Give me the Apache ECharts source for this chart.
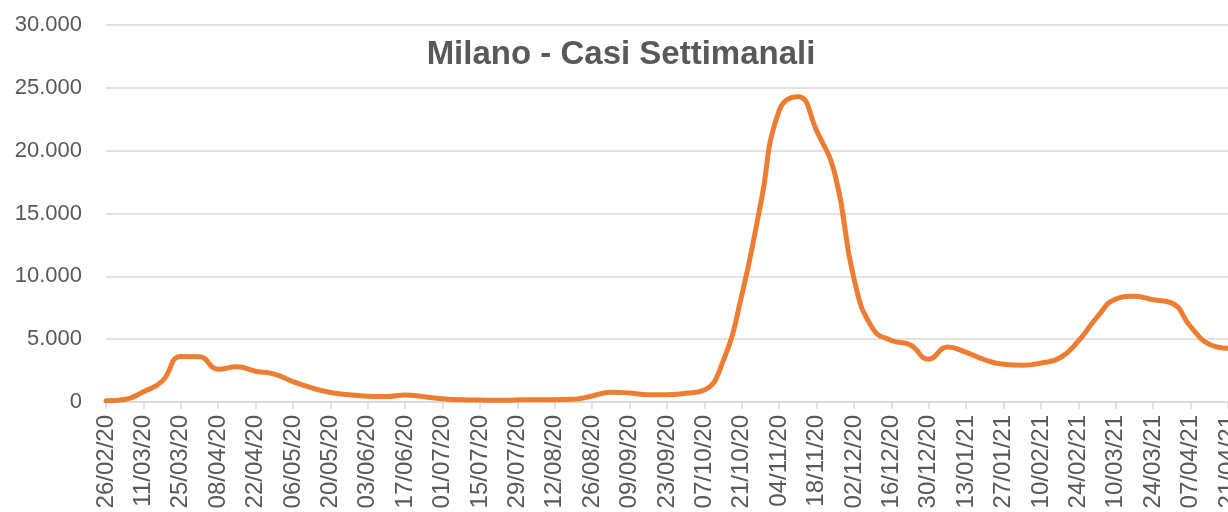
<!DOCTYPE html>
<html>
<head>
<meta charset="utf-8">
<script src="https://cdn.jsdelivr.net/npm/echarts@6/dist/echarts.min.js"></script>
<style>
  html, body { margin: 0; padding: 0; background: #ffffff; overflow: hidden; }
  #chart { width: 1228px; height: 512px; }
</style>
</head>
<body>
<div id="chart"></div>
<script>
// Weekly reporting dates (Wednesdays)
const weeks = [
  '26/02/20','04/03/20','11/03/20','18/03/20','25/03/20','01/04/20','08/04/20','15/04/20',
  '22/04/20','29/04/20','06/05/20','13/05/20','20/05/20','27/05/20','03/06/20','10/06/20',
  '17/06/20','24/06/20','01/07/20','08/07/20','15/07/20','22/07/20','29/07/20','05/08/20',
  '12/08/20','19/08/20','26/08/20','02/09/20','09/09/20','16/09/20','23/09/20','30/09/20',
  '07/10/20','14/10/20','21/10/20','28/10/20','04/11/20','11/11/20','18/11/20','25/11/20',
  '02/12/20','09/12/20','16/12/20','23/12/20','30/12/20','06/01/21','13/01/21','20/01/21',
  '27/01/21','03/02/21','10/02/21','17/02/21','24/02/21','03/03/21','10/03/21','17/03/21',
  '24/03/21','31/03/21','07/04/21','14/04/21','21/04/21'
];

// New cases per week, city of Milan
const weeklyCases = [
  100, 200, 820, 1650, 3620, 3600, 2600, 2800,
  2450, 2220, 1620, 1120, 760, 580, 460, 430,
  560, 420, 260, 180, 160, 130, 160, 180,
  180, 210, 480, 770, 720, 580, 580, 690,
  950, 3250, 8500, 15700, 23200, 24300, 21600, 18000,
  9800, 5850, 4900, 4550, 3400, 4380, 3950, 3360,
  3000, 2920, 3100, 3500, 4850, 6750, 8190, 8420,
  8130, 7870, 6000, 4600, 4280
];

// Value axis range
const yMin = 0;
const yMax = 30000;
const yStep = 5000;

const chartTitle = 'Milano - Casi Settimanali';

function thousands(v) {
  return String(v).replace(/\B(?=(\d{3})+(?!\d))/g, '.');
}

const chart = echarts.init(document.getElementById('chart'), null, { renderer: 'canvas' });

chart.setOption({
  backgroundColor: '#ffffff',
  animation: false,
  title: {
    text: chartTitle,
    left: 616,
    top: 33,
    textAlign: 'center',
    textStyle: {
      fontFamily: 'Liberation Sans',
      fontWeight: 'bold',
      fontSize: 33,
      color: '#595959'
    }
  },
  grid: {
    left: 106, right: 0, top: 25, bottom: 110,
    containLabel: false,
    outerBoundsMode: 'none'
  },
  xAxis: {
    type: 'category',
    data: weeks,
    boundaryGap: false,
    axisLine: { show: true, lineStyle: { color: '#d9d9d9', width: 1.5 } },
    axisTick: { show: true, interval: 1, length: 7, lineStyle: { color: '#d9d9d9', width: 1.5 } },
    axisLabel: {
      interval: 1,
      rotate: 90,
      margin: 13,
      hideOverlap: false,
      showMaxLabel: true,
      fontFamily: 'Liberation Sans',
      fontSize: 24,
      color: '#595959'
    },
    splitLine: { show: false }
  },
  yAxis: {
    type: 'value',
    min: yMin,
    max: yMax,
    interval: yStep,
    axisLine: { show: false },
    axisTick: { show: false },
    axisLabel: {
      margin: 24,
      fontFamily: 'Liberation Sans',
      fontSize: 22,
      color: '#595959',
      formatter: thousands
    },
    splitLine: { lineStyle: { color: '#d9d9d9', width: 1.5 } }
  },
  series: [{
    type: 'line',
    data: weeklyCases,
    smooth: 0.5,
    showSymbol: false,
    lineStyle: { color: '#ED7D31', width: 5, cap: 'round', join: 'round' }
  }]
});
</script>
</body>
</html>
